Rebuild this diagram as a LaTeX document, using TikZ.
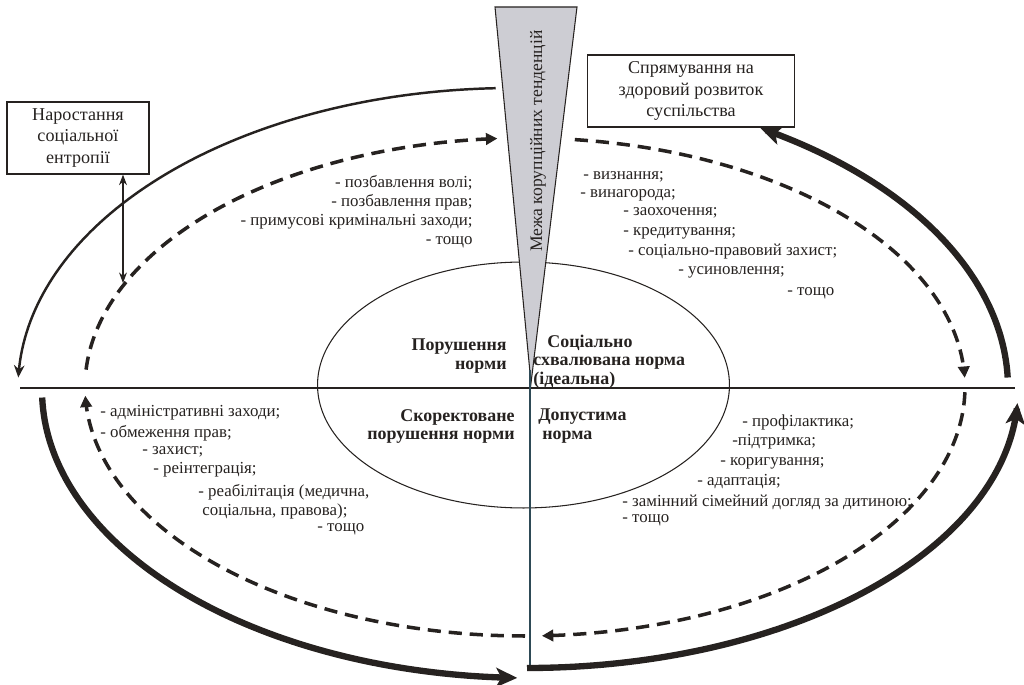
\documentclass[tikz,border=0pt]{standalone}
\usepackage{fontspec}
\setmainfont{Liberation Serif}
\usetikzlibrary{arrows.meta}
\definecolor{ink}{HTML}{262220}
\definecolor{wedge}{HTML}{CDCDD3}
\definecolor{vline}{HTML}{2E4A56}
\tikzset{
  lst/.style={inner sep=0pt, text=ink, font=\fontsize{9.6}{11}\selectfont},
  bld/.style={inner sep=0pt, text=ink, font=\fontsize{10.2}{11}\selectfont\bfseries},
  infobox/.style={draw=ink, line width=0.7pt, inner sep=2pt, align=center, text=ink,
     font=\fontsize{10.3}{12}\selectfont},
  thickarc/.style={draw=ink, line width=3.6pt, -{Stealth[length=12pt,width=11pt,inset=3pt]}},
  thinarc/.style={draw=ink, line width=1.4pt, -{Stealth[length=7pt,width=6pt]}},
  dasharc/.style={draw=ink, line width=2pt, dash pattern=on 7.5pt off 4.5pt,
     -{Triangle[length=6.5pt,width=6.5pt]}},
}
\begin{document}
\begin{tikzpicture}[x=0.02cm,y=0.02cm]
\useasboundingbox (0,0) rectangle (1024,684);
% axes
\draw[ink, line width=0.6pt] (20,296) -- (1015,296);
% inner ellipse
\draw[ink, line width=0.6pt] (523.5,299) ellipse [x radius=4.12cm, y radius=2.46cm];
% wedge
\coordinate (wl) at (495,677);
\coordinate (wr) at (577,677);
\coordinate (wt) at (531,301);
\draw[ink, line width=0.6pt, fill=wedge] (wl) -- (wr) -- (wt) -- cycle;
\node[rotate=90, text=ink, font=\fontsize{10}{12}\selectfont] (mezha) at (538,543) {Межа корупційних тенденцій};
\draw[vline, line width=0.7pt] (530,314) -- (530,19);
% outer arcs
\draw[thinarc] plot[domain=92:178, samples=80, variable=\t] ({513+495*cos(\t)}, {296+300*sin(\t)});
\draw[thickarc] plot[domain=2:60, samples=80, variable=\t] ({513+495*cos(\t)}, {296+300*sin(\t)});
\draw[thickarc] plot[domain=181.5:268.5, samples=80, variable=\t] ({530+488*cos(\t)}, {294+288*sin(\t)});
\draw[thickarc] plot[domain=270:357.3, samples=80, variable=\t] ({527+491*cos(\t)}, {294+278*sin(\t)});
% dashed arcs
\draw[dasharc] plot[domain=270:182, samples=80, variable=\t] ({525+440*cos(\t)}, {297+249*sin(\t)});
\draw[dasharc] plot[domain=176:93.6, samples=80, variable=\t] ({525+440*cos(\t)}, {297+249*sin(\t)});
\draw[dasharc] plot[domain=83.5:2.1, samples=80, variable=\t] ({525+440*cos(\t)}, {297+249*sin(\t)});
\draw[dasharc] plot[domain=358.8:272.2, samples=80, variable=\t] ({525+440*cos(\t)}, {297+249*sin(\t)});
% boxes
\node[infobox, minimum width=2.84cm, minimum height=1.44cm] (entropy) at (78,546)
  {Наростання\\соціальної\\ентропії};
\node[infobox, minimum width=4.14cm, minimum height=1.44cm] (health) at (691,593)
  {Спрямування на\\здоровий розвиток\\суспільства};
\coordinate (entend) at (123,401);
\draw[ink, line width=0.6pt, {Stealth[length=6pt,width=4.5pt]}-{Stealth[length=6pt,width=4.5pt]}] (entropy.south -| entend) -- (entend);
% centre labels
\node[bld, anchor=east] (c1) at (507,337) {Порушення};
\node[bld, anchor=east] (c2) at (507,317) {норми};
\node[bld, anchor=west] (c3) at (547,341) {Соціально};
\node[bld, anchor=west] (c4) at (533,321) {схвалювана норма};
\node[bld, anchor=west] (c5) at (533,304) {(ідеальна)};
\node[bld, anchor=east] (c6) at (515,267) {Скоректоване};
\node[bld, anchor=east] (c7) at (515,247) {порушення норми};
\node[bld, anchor=west] (c8) at (538,267) {Допустима};
\node[bld, anchor=west] (c9) at (542,247) {норма};
% upper-left list
\node[lst, anchor=east] (ul1) at (473,501) {- позбавлення волі;};
\node[lst, anchor=east] (ul2) at (473,482) {- позбавлення прав;};
\node[lst, anchor=east] (ul3) at (473,462) {- примусові кримінальні заходи;};
\node[lst, anchor=east] (ul4) at (473,442) {- тощо};
% upper-right list
\node[lst, anchor=west] (ur1) at (583,507) {- визнання;};
\node[lst, anchor=west] (ur2) at (580,489) {- винагорода;};
\node[lst, anchor=west] (ur3) at (623,471) {- заохочення;};
\node[lst, anchor=west] (ur4) at (623,451) {- кредитування;};
\node[lst, anchor=west] (ur5) at (628,432) {- соціально-правовий захист;};
\node[lst, anchor=west] (ur6) at (678,412) {- усиновлення;};
\node[lst, anchor=west] (ur7) at (787,391) {- тощо};
% lower-left list
\node[lst, anchor=west] (ll1) at (100,271) {- адміністративні заходи;};
\node[lst, anchor=west] (ll2) at (100,251) {- обмеження прав;};
\node[lst, anchor=west] (ll3) at (142,232) {- захист;};
\node[lst, anchor=west] (ll4) at (153,214) {- реінтеграція;};
\node[lst, anchor=west] (ll5) at (198,192) {- реабілітація (медична,};
\node[lst, anchor=west] (ll6) at (202,173) {соціальна, правова);};
\node[lst, anchor=west] (ll7) at (317,155) {- тощо};
% lower-right list
\node[lst, anchor=west] (lr1) at (742,262) {- профілактика;};
\node[lst, anchor=west] (lr2) at (732,242) {-підтримка;};
\node[lst, anchor=west] (lr3) at (720,221) {- коригування;};
\node[lst, anchor=west] (lr4) at (697,202) {- адаптація;};
\node[lst, anchor=west] (lr5) at (622,182) {- замінний сімейний догляд за дитиною;};
\node[lst, anchor=west] (lr6) at (622,164) {- тощо};
\end{tikzpicture}
\end{document}
